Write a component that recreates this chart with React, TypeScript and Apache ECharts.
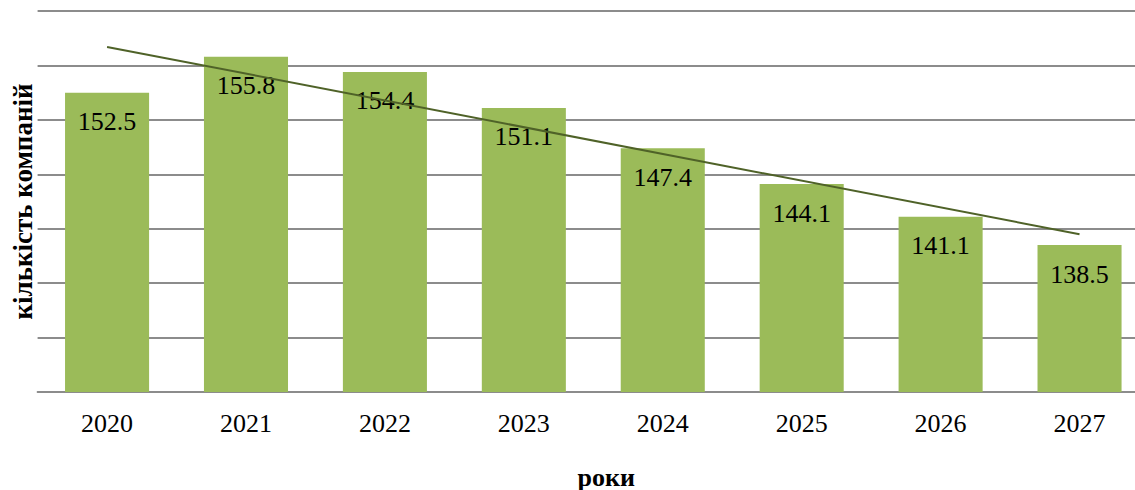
import React, { useEffect, useRef } from "react";
import * as echarts from "echarts";

const years = ["2020", "2021", "2022", "2023", "2024", "2025", "2026", "2027"];
const companies = [152.5, 155.8, 154.4, 151.1, 147.4, 144.1, 141.1, 138.5];
// trend line end points (start at 2020, end at 2027)
const trend = [156.7, null, null, null, null, null, null, 139.5];
const yMin = 125;
const yMax = 160;
const yStep = 5;

const FONT = "Liberation Serif";

export default function App() {
  const ref = useRef<HTMLDivElement>(null);
  useEffect(() => {
    if (!ref.current) return;
    const chart = echarts.init(ref.current, null, { renderer: "svg" });
    chart.setOption({
      animation: false,
      backgroundColor: "#ffffff",
      grid: {
        left: 37.6,
        right: 0,
        top: 11,
        bottom: 98,
        containLabel: false,
        outerBoundsMode: "none",
      },
      xAxis: {
        type: "category",
        data: years,
        axisTick: { show: false },
        axisLine: { lineStyle: { color: "#8c8c8c", width: 2 } },
        axisLabel: { fontSize: 26, fontFamily: FONT, color: "#000", margin: 18 },
        name: "роки",
        nameLocation: "middle",
        nameGap: 72,
        nameTextStyle: {
          fontSize: 26,
          fontFamily: FONT,
          fontWeight: "bold",
          color: "#000",
          padding: [0, 0, 0, 26],
        },
      },
      yAxis: {
        type: "value",
        min: yMin,
        max: yMax,
        interval: yStep,
        axisLabel: { show: false },
        axisLine: { show: false },
        axisTick: { show: false },
        splitLine: { lineStyle: { color: "#8c8c8c", width: 2 } },
        name: "кількість компаній",
        nameLocation: "middle",
        nameGap: 1,
        nameTextStyle: { fontSize: 27, fontFamily: FONT, fontWeight: "bold", color: "#000" },
      },
      series: [
        {
          type: "bar",
          data: companies,
          barWidth: "60.5%",
          itemStyle: { color: "#9bbb59" },
          label: {
            show: true,
            position: "insideTop",
            distance: 16,
            fontSize: 26,
            fontFamily: FONT,
            color: "#000",
            formatter: (p: any) => p.value.toFixed(1),
          },
        },
        {
          type: "line",
          data: trend,
          connectNulls: true,
          symbol: "none",
          lineStyle: { color: "#4f6228", width: 2 },
          z: 3,
        },
      ],
    });
    return () => chart.dispose();
  }, []);
  return (
    <div
      ref={ref}
      style={{ position: "fixed", left: 0, top: 0, width: 1149, height: 490, background: "#fff" }}
    />
  );
}
